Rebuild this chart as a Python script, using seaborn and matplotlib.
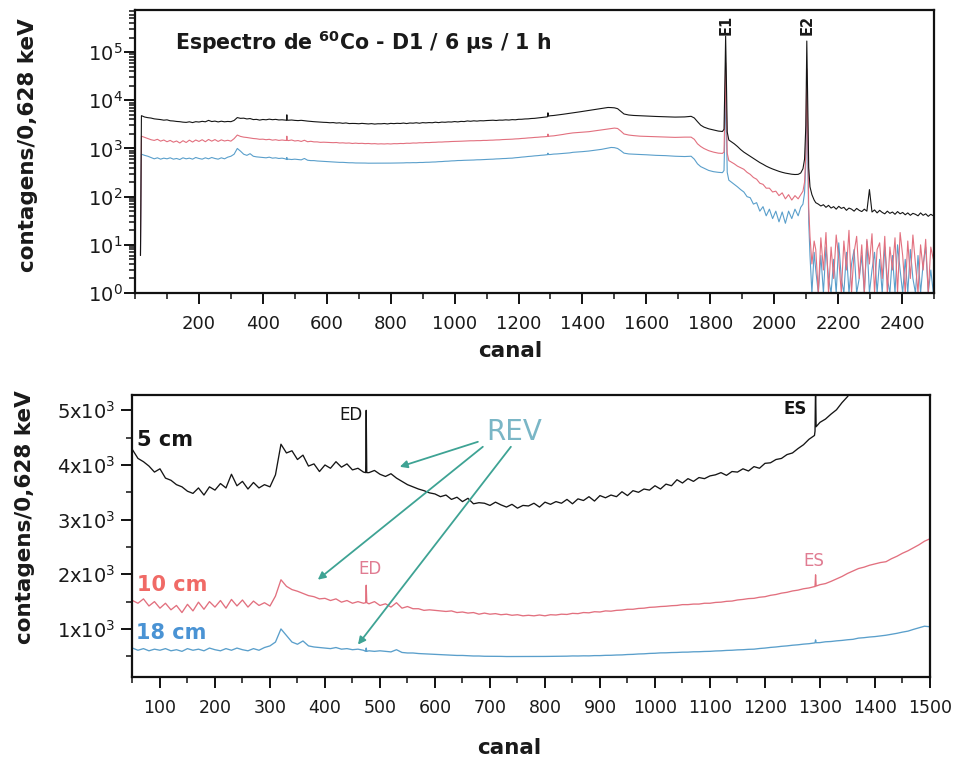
import numpy as np
import pandas as pd
import matplotlib
matplotlib.use("Agg")
import matplotlib.pyplot as plt
import seaborn as sns
from matplotlib.ticker import MultipleLocator, FixedLocator, FuncFormatter, LogLocator, NullFormatter

# ---------------- data ----------------
# leading edge channel
start_ch = [17]
start_5 = [6]
start_10 = [6]
start_18 = [6]

# regular grid 20..1500 (step 10 channels)
grid_lo = np.arange(20, 1501, 10)

lo_5cm = [
    4800, 4500, 4360, 4280, 4120, 4060, 3980, 3870, 3930, 3760,
    3720, 3640, 3600, 3520, 3480, 3580, 3450, 3600, 3540, 3660,
    3580, 3830, 3620, 3700, 3560, 3680, 3580, 3640, 3600, 3820,
    4380, 4220, 4260, 4100, 4180, 3980, 4020, 3880, 4000, 3940,
    4060, 3960, 4020, 3910, 3940, 3870, 3860, 3900, 3830, 3790,
    3840, 3760, 3700, 3640, 3600, 3560, 3530, 3490, 3470, 3420,
    3450, 3370, 3410, 3330, 3390, 3290, 3310, 3300, 3260, 3320,
    3270, 3230, 3280, 3210, 3260, 3250, 3300, 3230, 3320, 3280,
    3330, 3300, 3370, 3290, 3380, 3350, 3420, 3340, 3440, 3400,
    3450, 3420, 3510, 3440, 3530, 3500, 3560, 3540, 3620, 3560,
    3650, 3620, 3730, 3670, 3750, 3700, 3770, 3750, 3800, 3820,
    3860, 3810, 3880, 3870, 3930, 3890, 3970, 3940, 4030, 4040,
    4100, 4120, 4190, 4220, 4300, 4370, 4470, 4540, 4780, 4840,
    4930, 5010, 5140, 5250, 5380, 5480, 5600, 5740, 5880, 6000,
    6150, 6300, 6450, 6620, 6780, 6950, 7100, 7060, 6980,
]
lo_10cm = [
    1800, 1700, 1600, 1520, 1470, 1550, 1420, 1500, 1380, 1470,
    1350, 1430, 1300, 1450, 1330, 1490, 1360, 1500, 1400, 1520,
    1380, 1540, 1420, 1530, 1400, 1510, 1430, 1480, 1420, 1600,
    1900, 1780, 1720, 1690, 1650, 1610, 1590, 1550, 1560, 1520,
    1550, 1490, 1520, 1470, 1500, 1470, 1460, 1500, 1430, 1460,
    1400, 1480, 1380, 1410, 1370, 1370, 1340, 1350, 1340, 1330,
    1320, 1330, 1300, 1310, 1290, 1300, 1270, 1290, 1270, 1280,
    1260, 1270, 1250, 1260, 1240, 1250, 1240, 1255, 1240, 1260,
    1255, 1270, 1265, 1285, 1280, 1300, 1295, 1315, 1310, 1330,
    1325, 1340, 1345, 1360, 1360, 1375, 1380, 1395, 1400, 1410,
    1415, 1425, 1430, 1445, 1445, 1455, 1455, 1470, 1470, 1485,
    1490, 1505, 1510, 1530, 1540, 1555, 1560, 1580, 1590, 1615,
    1630, 1655, 1670, 1695, 1710, 1735, 1750, 1775, 1810, 1830,
    1870, 1915, 1960, 2015, 2060, 2105, 2130, 2165, 2190, 2215,
    2230, 2285, 2330, 2385, 2430, 2485, 2540, 2605, 2650,
]
lo_18cm = [
    760, 720, 690, 650, 610, 640, 600, 630, 610, 640,
    600, 620, 590, 640, 610, 630, 600, 650, 620, 600,
    640, 610, 650, 620, 600, 640, 610, 660, 690, 760,
    1000, 880, 760, 720, 780, 690, 670, 660, 650, 640,
    660, 630, 640, 620, 630, 610, 600, 590, 600, 590,
    580, 620, 570, 560, 560, 550, 545, 540, 535, 530,
    525, 520, 515, 515, 510, 505, 505, 500, 500, 500,
    498, 495, 495, 493, 495, 493, 495, 495, 497, 498,
    500, 502, 502, 506, 505, 508, 507, 512, 512, 517,
    518, 523, 525, 532, 535, 542, 545, 552, 555, 562,
    563, 568, 570, 575, 576, 582, 583, 588, 590, 597,
    600, 607, 610, 617, 620, 627, 630, 642, 650, 662,
    670, 682, 690, 702, 710, 722, 730, 745, 750, 765,
    770, 782, 790, 802, 810, 832, 840, 852, 860, 872,
    885, 902, 920, 942, 960, 992, 1020, 1050, 1040,
]

# narrow lines ED (~475) and ES (~1292)
ed_ch = [474, 475, 476]
ed_5cm = [3860, 5000, 3860]
ed_10cm = [1480, 1800, 1480]
ed_18cm = [590, 650, 590]
es_ch = [1291, 1292, 1293]
es_5cm = [4620, 5500, 4700]
es_10cm = [1775, 1990, 1785]
es_18cm = [745, 800, 748]

# high-energy part with the two full-energy peaks E1 and E2
hi_ch = [1510, 1520, 1530, 1545, 1560, 1580, 1600, 1630, 1660, 1690,
         1720, 1740, 1750, 1760, 1770, 1780, 1795, 1810, 1825, 1838,
         1843, 1846, 1848, 1850, 1853, 1858, 1866, 1875, 1885, 1895,
         1905, 1915, 1925, 1935, 1945, 1955, 1965, 1975, 1985, 1995,
         2005, 2015, 2025, 2035, 2045, 2055, 2065, 2075, 2083, 2090,
         2095, 2099, 2102, 2105, 2108, 2112, 2118, 2125]
hi_5cm = [6700, 5900, 5200, 4950, 4850, 4780, 4700, 4620, 4560, 4480,
          4520, 4650, 4300, 3600, 3050, 2780, 2560, 2420, 2300, 2250,
          2500, 30000, 215000, 40000, 2200, 1500, 1380, 1250, 1100, 950,
          840, 760, 690, 620, 560, 510, 470, 430, 400, 375,
          355, 335, 320, 308, 300, 292, 288, 290, 310, 380,
          600, 3000, 170000, 8000, 400, 160, 110, 85]
hi_10cm = [2600, 2300, 2000, 1900, 1850, 1800, 1780, 1750, 1730, 1700,
           1720, 1720, 1550, 1250, 1100, 1000, 900, 840, 800, 790,
           850, 8000, 60000, 9000, 800, 560, 520, 480, 430, 400,
           370, 320, 290, 250, 230, 190, 180, 150, 150, 125,
           130, 105, 120, 90, 110, 85, 105, 90, 110, 130,
           200, 800, 45000, 1500, 60, 15, 4, 12]
hi_18cm = [1000, 900, 800, 770, 760, 750, 740, 720, 710, 690,
           680, 690, 600, 480, 420, 390, 350, 330, 320, 315,
           350, 3000, 20000, 3500, 320, 220, 200, 180, 160, 140,
           125, 100, 95, 70, 75, 50, 62, 40, 55, 35,
           50, 30, 48, 28, 50, 35, 55, 40, 60, 70,
           120, 500, 15000, 600, 30, 6, 1, 7]

# noisy tail after E2
tail_ch = np.arange(2130, 2500, 8)
tail_5cm = [75, 70, 64, 68, 60, 66, 58, 62, 55, 63,
            57, 60, 52, 58, 55, 50, 57, 52, 49, 55,
            50, 140, 48, 53, 46, 52, 47, 44, 50, 45,
            48, 43, 49, 44, 47, 42, 46, 41, 45, 43,
            40, 46, 41, 44, 39, 43, 40]
tail_10cm = [8, 1, 14, 3, 18, 1, 9, 2, 16, 5,
             1, 12, 3, 20, 1, 7, 15, 2, 10, 1,
             13, 4, 17, 1, 8, 11, 2, 15, 1, 9,
             3, 14, 1, 18, 6, 1, 12, 2, 16, 4,
             1, 10, 3, 13, 1, 9, 5]
tail_18cm = [3, 1, 6, 1, 9, 2, 1, 5, 1, 11,
             2, 1, 7, 1, 4, 8, 1, 2, 6, 1,
             12, 1, 3, 7, 1, 5, 1, 9, 2, 1,
             6, 1, 10, 3, 1, 5, 1, 8, 2, 1,
             6, 1, 4, 9, 1, 3, 1]

labels = ["18 cm", "10 cm", "5 cm"]
colors = {"5 cm": "#151515", "10 cm": "#e2707f", "18 cm": "#5a9fcb"}

# ---------------- build table ----------------
channels = np.concatenate([start_ch, grid_lo, ed_ch, es_ch, hi_ch, tail_ch])
series = {
    "5 cm": np.concatenate([start_5, lo_5cm, ed_5cm, es_5cm, hi_5cm, tail_5cm]),
    "10 cm": np.concatenate([start_10, lo_10cm, ed_10cm, es_10cm, hi_10cm, tail_10cm]),
    "18 cm": np.concatenate([start_18, lo_18cm, ed_18cm, es_18cm, hi_18cm, tail_18cm]),
}
frames = []
for name in labels:
    frames.append(pd.DataFrame({"canal": channels, "cont": series[name], "dist": name}))
df = pd.concat(frames, ignore_index=True).sort_values(["dist", "canal"])

# ---------------- style ----------------
sns.set_theme(style="ticks")
plt.rcParams["font.family"] = ["DejaVu Sans"]
plt.rcParams["mathtext.fontset"] = "dejavusans"
plt.rcParams["axes.linewidth"] = 1.6

fig = plt.figure(figsize=(9.55, 7.62), dpi=100)
fig.patch.set_facecolor("white")
ax1 = fig.add_axes([0.1414, 0.6155, 0.8366, 0.3714])
ax2 = fig.add_axes([0.1387, 0.1115, 0.8351, 0.3701])

for ax, lw in ((ax1, 0.8), (ax2, 0.95)):
    for name in labels:
        sub = df[df["dist"] == name]
        sns.lineplot(data=sub, x="canal", y="cont", ax=ax, color=colors[name],
                     lw=lw, estimator=None, sort=True, legend=False)

# ---------------- top panel ----------------
ax1.set_yscale("log")
ax1.set_xlim(0, 2500)
ax1.set_ylim(1, 7.5e5)
ax1.xaxis.set_major_locator(FixedLocator(list(range(200, 2401, 200))))
ax1.xaxis.set_minor_locator(MultipleLocator(100))
ax1.yaxis.set_major_locator(LogLocator(base=10, numticks=10))
ax1.yaxis.set_minor_locator(LogLocator(base=10, subs=np.arange(2, 10), numticks=20))
ax1.yaxis.set_minor_formatter(NullFormatter())
ax1.tick_params(axis="x", which="major", labelsize=13, pad=8)
ax1.tick_params(axis="y", which="major", labelsize=14, pad=1)

ax1.text(0.05, 0.885, r"Espectro de $^{\mathbf{60}}$Co - D1 / 6 μs / 1 h",
         transform=ax1.transAxes, fontsize=14.8, fontweight="bold", va="center", ha="left",
         color="#1a1a1a")
ax1.text(1850, 2.3e5, "E1", rotation=90, fontsize=10.5, fontweight="bold",
         ha="center", va="bottom", color="#1a1a1a")
ax1.text(2104, 2.3e5, "E2", rotation=90, fontsize=10.5, fontweight="bold",
         ha="center", va="bottom", color="#1a1a1a")

# ---------------- bottom panel ----------------
ax2.set_xlim(50, 1500)
ax2.set_ylim(120, 5280)
ax2.xaxis.set_major_locator(MultipleLocator(100))
ax2.xaxis.set_minor_locator(MultipleLocator(50))
ax2.yaxis.set_major_locator(FixedLocator([1000, 2000, 3000, 4000, 5000]))
ax2.yaxis.set_minor_locator(MultipleLocator(500))
ax2.yaxis.set_major_formatter(FuncFormatter(lambda v, p: f"{int(round(v / 1000))}x10$^3$"))
ax2.tick_params(axis="x", which="major", labelsize=12.5, pad=8)
ax2.tick_params(axis="y", which="major", labelsize=14, pad=4)

ax2.text(58, 4457, "5 cm", fontsize=15, fontweight="bold", color="#151515", ha="left", va="center")
ax2.text(58, 1800, "10 cm", fontsize=15, fontweight="bold", color="#f06a66", ha="left", va="center")
ax2.text(56, 931, "18 cm", fontsize=15, fontweight="bold", color="#4a93d4", ha="left", va="center")
ax2.text(447, 4913, "ED", fontsize=12, color="#151515", ha="center", va="center")
ax2.text(1255, 5030, "ES", fontsize=12, fontweight="bold", color="#151515", ha="center", va="center")
ax2.text(481, 2100, "ED", fontsize=12, color="#e07c92", ha="center", va="center")
ax2.text(1289, 2250, "ES", fontsize=12, color="#e07c92", ha="center", va="center")
ax2.text(744, 4603, "REV", fontsize=20, color="#7ab6c6", ha="center", va="center")

arrow_col = "#3ea394"
for start, end in (((678, 4424), (536, 3967)),
                   ((687, 4333), (387, 1901)),
                   ((738, 4333), (460, 713))):
    ax2.annotate("", xy=end, xytext=start,
                 arrowprops=dict(arrowstyle="-|>", color=arrow_col, lw=1.3,
                                 mutation_scale=11, shrinkA=0, shrinkB=0))

# ---------------- common styling ----------------
for ax in (ax1, ax2):
    for s in ax.spines.values():
        s.set_visible(True)
        s.set_linewidth(1.6)
        s.set_color("#111111")
    ax.tick_params(which="major", direction="out", length=8, width=1.4,
                   color="#111111", labelcolor="#1a1a1a", top=False, right=False)
    ax.tick_params(which="minor", direction="out", length=4, width=1.1,
                   color="#111111", top=False, right=False)
    ax.set_xlabel("canal", fontsize=15.5, fontweight="bold", color="#1a1a1a")
    ax.set_ylabel("contagens/0,628 keV", fontsize=15.5, fontweight="bold", color="#1a1a1a")
    ax.xaxis.label.set_va("center")
    ax.yaxis.label.set_va("center")
    ax.set_facecolor("white")

ax1.xaxis.set_label_coords(0.469, -0.205)
ax1.yaxis.set_label_coords(-0.134, 0.523)
ax2.xaxis.set_label_coords(0.473, -0.252)
ax2.yaxis.set_label_coords(-0.135, 0.567)

fig.savefig("out.png", dpi=100, facecolor="white")
